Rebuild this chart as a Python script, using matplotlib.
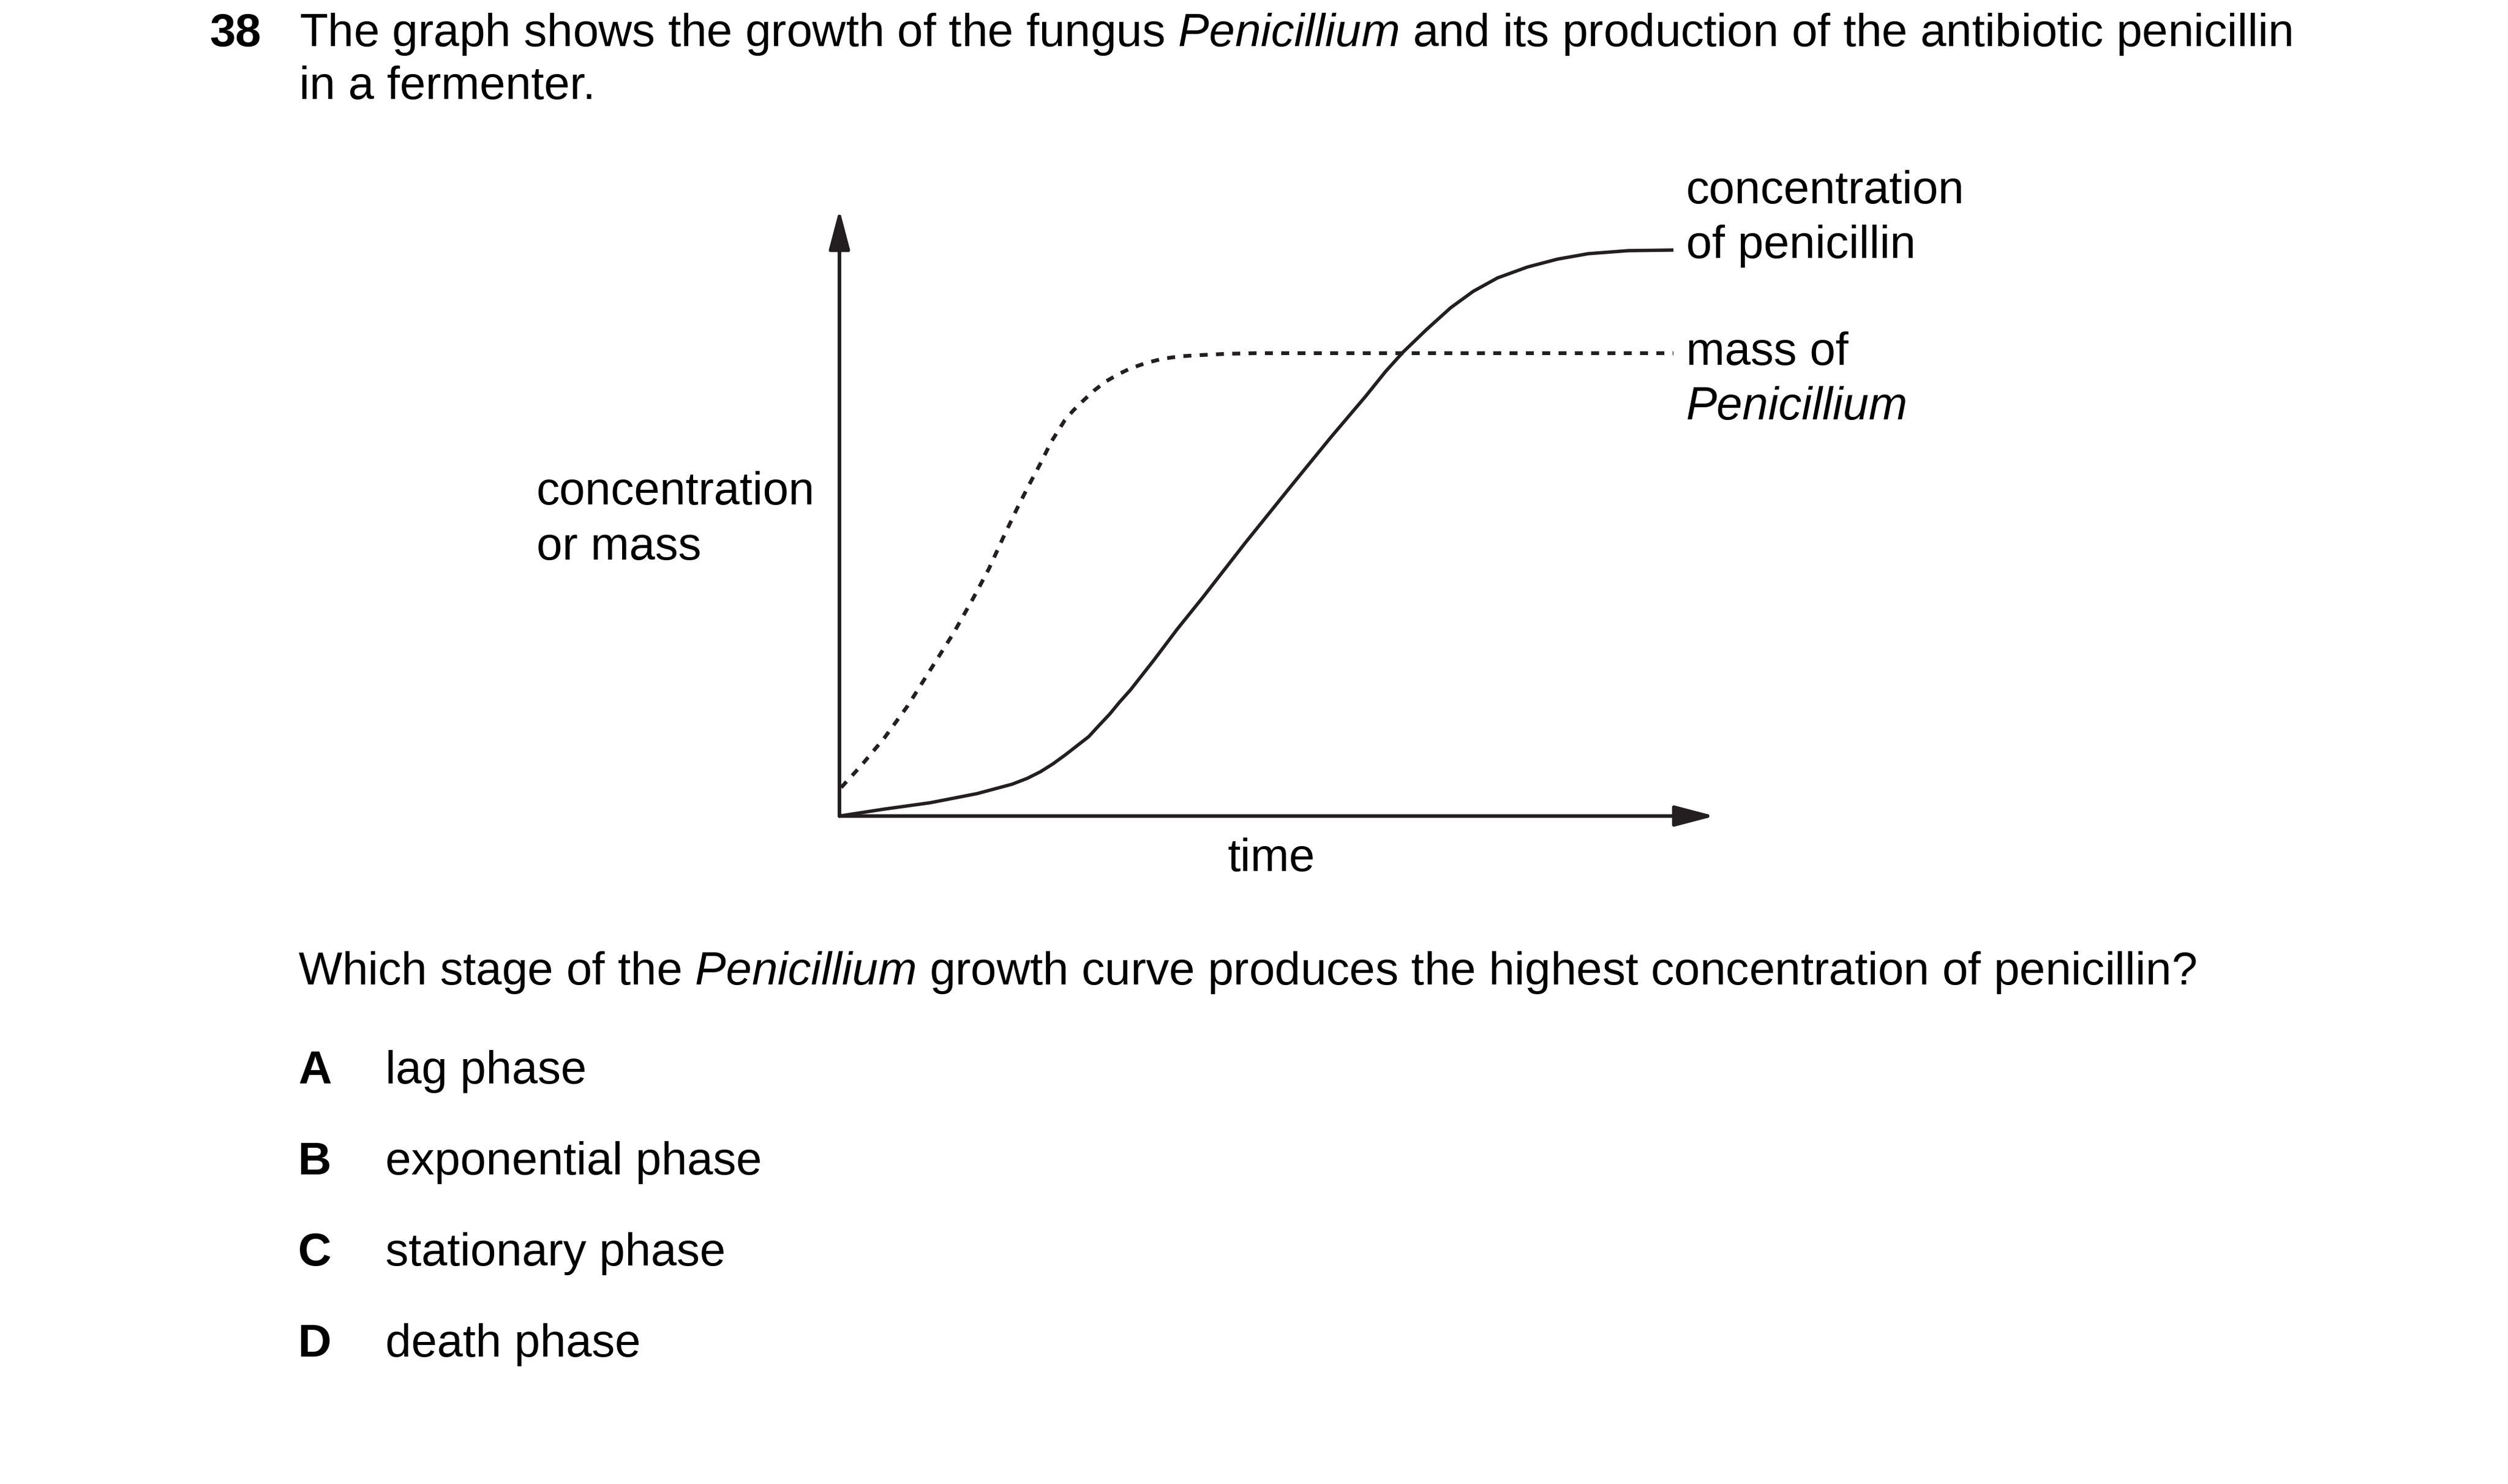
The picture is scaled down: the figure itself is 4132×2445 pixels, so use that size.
import matplotlib
matplotlib.use("Agg")
import matplotlib.pyplot as plt
from matplotlib.patches import ArrowStyle

plt.rcParams['font.family'] = ['Liberation Sans', 'DejaVu Sans']
plt.rcParams['mathtext.fontset'] = 'custom'
plt.rcParams['mathtext.rm'] = 'Liberation Sans'
plt.rcParams['mathtext.it'] = 'Liberation Sans:italic'
plt.rcParams['mathtext.bf'] = 'Liberation Sans:bold'

# values (time 0-100, concentration 0-100 up to the arrow tip)
time_penicillin = [0, 5.4, 10.9, 16.5, 20.7, 22.5, 24.1, 25.6, 27.1, 28.5, 29.9, 31.1, 32.4,
                   33.6, 34.9, 37.7, 40.5, 43.6, 48.7, 53.8, 58.9, 63.1, 65.5, 67.6, 70.4,
                   73.3, 76.0, 78.9, 82.5, 86.1, 89.8, 94.6, 100]
conc_penicillin = [0, 1.15, 2.2, 3.7, 5.25, 6.2, 7.3, 8.6, 10.1, 11.6, 13.1, 14.9, 16.8,
                   18.8, 20.8, 25.7, 30.8, 36.1, 45.1, 53.8, 62.4, 69.2, 73.3, 76.5, 80.2,
                   83.8, 86.5, 88.7, 90.5, 91.8, 92.7, 93.2, 93.3]

time_mass = [0.2, 2.6, 5.4, 8.2, 10.9, 13.7, 16.0, 17.9, 19.6, 21.3, 22.7, 24.1, 25.4,
             27.0, 28.0, 29.1, 30.5, 31.9, 33.4, 34.9, 36.8, 38.8, 41.0, 43.5, 46.5, 50, 100]
mass_fungus = [4.7, 8.3, 12.9, 18.2, 24.1, 30.2, 35.8, 40.7, 45.8, 50.7, 54.5, 58.1, 61.7,
               65.2, 66.8, 68.3, 70.1, 71.6, 72.8, 73.8, 74.7, 75.4, 75.8, 76.0, 76.2, 76.3, 76.3]

title_lines = [r"The graph shows the growth of the fungus $\mathit{Penicillium}$ and its production of the antibiotic penicillin",
               "in a fermenter."]
question = r"Which stage of the $\mathit{Penicillium}$ growth curve produces the highest concentration of penicillin?"
option_letters = ["A", "B", "C", "D"]
option_texts = ["lag phase", "exponential phase", "stationary phase", "death phase"]

W, H = 4132, 2445
FS = 55
INK = '#231f20'

fig = plt.figure(figsize=(W / 100, H / 100), dpi=100)
fig.patch.set_facecolor('white')

def put(x, y, s, **kw):
    # x, y in pixels from the top-left corner, y at the baseline
    fig.text(x / W, 1 - y / H, s, fontsize=FS, va='baseline', ha='left', color='black', **kw)

# graph area
x0, x1 = 1383, 2825
y0, y1 = 1344.5, 345
ax = fig.add_axes([x0 / W, 1 - y0 / H, (x1 - x0) / W, (y0 - y1) / H])
xmax = (x1 - x0) / 13.74
ax.set_xlim(0, xmax)
ax.set_ylim(0, 100)
ax.set_axis_off()

head = ArrowStyle('-|>', head_length=0.40, head_width=0.105)
for end in [(xmax, 0), (0, 100)]:
    ax.annotate('', xy=end, xytext=(0, 0), annotation_clip=False,
                arrowprops=dict(arrowstyle=head, mutation_scale=100, lw=4.3,
                                color=INK, shrinkA=0, shrinkB=0))

ax.plot(time_penicillin, conc_penicillin, color=INK, lw=4.0,
        solid_capstyle='butt', solid_joinstyle='round', clip_on=False)
ax.plot(time_mass, mass_fungus, color=INK, lw=4.5,
        linestyle=(0, (2.1, 2.2)), dash_capstyle='butt', clip_on=False)

# texts
put(345, 76, "38", fontweight='bold')
put(493, 76, title_lines[0])
put(493, 163, title_lines[1])

put(884, 831, "concentration")
put(884, 922, "or mass")
put(2023, 1435, "time")

put(2778, 335, "concentration")
put(2778, 425, "of penicillin")
put(2778, 601, "mass of")
put(2778, 691, "Penicillium", style='italic')

put(491, 1622, question)
for i, (letter, txt) in enumerate(zip(option_letters, option_texts)):
    yb = 1785 + i * 150
    put(491, yb, letter, fontweight='bold')
    put(635, yb, txt)

fig.savefig("out.png", dpi=100, facecolor='white')
